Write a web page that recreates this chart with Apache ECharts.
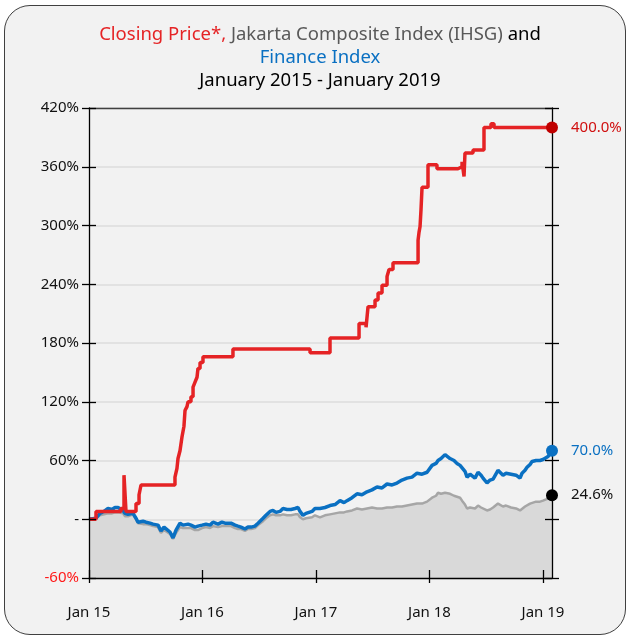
<!DOCTYPE html>
<html>
<head>
<meta charset="utf-8">
<script src="https://cdn.jsdelivr.net/npm/echarts@6.0.0/dist/echarts.min.js"></script>
<style>
  html, body { margin: 0; padding: 0; background: #fff; }
  #frame {
    position: absolute; left: 4px; top: 5px; width: 620px; height: 628px;
    background: #f2f2f2; border: 1.5px solid #404040; border-radius: 26px;
  }
  #chart { position: absolute; left: 0; top: 0; width: 628px; height: 639px; }
</style>
</head>
<body>
<div id="frame"></div>
<div id="chart"></div>
<script>
// months since Jan 2015 for the two index series
var idxMonths = [
  0, 0.74, 1.16, 1.59, 2.01, 2.43, 2.75, 3.07, 3.28, 3.59,
  3.81, 4.12, 4.33, 4.65, 4.97, 5.18, 5.39, 5.71, 6.03, 6.45,
  6.77, 7.30, 7.61, 7.93, 8.14, 8.56, 8.88, 9.20, 9.62, 9.94,
  10.15, 10.47, 10.78, 11.21, 11.52, 11.95, 12.37, 12.79, 13.11, 13.64,
  14.06, 14.38, 15.01, 15.44, 15.75, 16.07, 16.49, 16.81, 17.13, 17.55,
  17.87, 18.40, 18.71, 19.14, 19.45, 19.77, 20.19, 20.51, 20.93, 21.36,
  21.78, 22.10, 22.31, 22.62, 22.94, 23.15, 23.58, 23.89, 24.42, 24.95,
  25.48, 26.01, 26.54, 26.96, 27.28, 27.81, 28.34, 28.86, 29.39, 29.92,
  30.45, 30.98, 31.51, 32.04, 32.56, 33.09, 33.62, 34.15, 34.68, 35.21,
  35.74, 36.27, 36.69, 36.90, 37.22, 37.64, 38.17, 38.59, 38.91, 39.23,
  39.44, 39.75, 39.97, 40.28, 40.49, 40.81, 41.13, 41.45, 41.66, 42.08,
  42.40, 42.72, 42.93, 43.24, 43.45, 43.77, 44.09, 44.30, 44.62, 44.83,
  45.15, 45.36, 45.57, 45.78, 46.10, 46.31, 46.63, 46.84, 47.26, 47.68,
  48.00, 48.21, 48.53, 48.74, 48.95
];
var financeIdx = [
  0, 1, 6, 8, 11, 10, 12, 12, 14, 9,
  6, 5, 4, 6, 1, -3, -4, -2, -3, -4,
  -5, -6, -12, -8, -9, -13, -19, -11, -4, -6,
  -8, -5, -6, -8, -7, -6, -5, -6, -3, -5,
  -3, -4, -4, -6, -7, -8, -10, -8, -8, -7,
  -4, 1, 4, 8, 9, 7, 8, 11, 10, 10,
  11, 12, 8, 4, 6, 7, 8, 11, 11, 12,
  14, 15, 19, 17, 19, 22, 26, 25, 28, 30,
  33, 32, 36, 35, 37, 40, 42, 43, 47, 46,
  48, 55, 57, 60, 62, 66, 62, 60, 57, 55,
  53, 49, 43, 46, 47, 42, 48, 45, 42, 37,
  40, 41, 43, 50, 51, 45, 47, 48, 46, 47,
  45, 43, 42, 47, 50, 53, 56, 59, 60, 60,
  61, 62, 64, 67, 70
];
var ihsg = [
  0, 1, 4, 5, 6, 6, 7, 7, 8, 6,
  3, 3, 2, 5, 0, -4, -6, -5, -5, -6,
  -7, -8, -14, -11, -12, -15, -20, -14, -8, -9,
  -10, -9, -9, -11, -11, -9, -8, -9, -7, -8,
  -7, -7, -7, -9, -10, -10, -12, -10, -10, -9,
  -6, -2, 1, 4, 5, 4, 4, 5, 4, 4,
  5, 5, 2, 0, 1, 1, 2, 4, 2, 4,
  5, 6, 7, 7, 8, 9, 11, 10, 11, 12,
  11, 11, 12, 12, 13, 13, 14, 15, 16, 16,
  18, 22, 24, 27, 26, 27, 26, 24, 23, 22,
  19, 15, 11, 12, 13, 11, 14, 12, 11, 9,
  10, 12, 14, 16, 16, 13, 14, 13, 12, 12,
  11, 10, 9, 11, 13, 15, 16, 17, 18, 18,
  19, 20, 21, 23, 24.6
];
// closing price: value holds from each month until the next change
var priceMonths = [
  0, 0.74, 3.38, 3.70, 3.91, 4.97, 5.29, 5.50, 9.09, 9.30,
  9.41, 9.62, 9.83, 10.04, 10.15, 10.36, 10.47, 10.78, 11.00, 11.21,
  11.42, 11.52, 11.74, 12.05, 15.22, 23.37, 25.48, 28.55, 29.29, 29.50,
  30.24, 30.56, 30.98, 31.51, 31.72, 32.14, 34.79, 34.89, 35.00, 35.10,
  35.21, 35.84, 36.79, 39.01, 39.44, 39.65, 39.75, 40.60, 41.76, 42.50,
  42.82, 48.95
];
var closingPrice = [
  0, 8, 11, 45, 8, 16, 25, 35, 43, 52,
  62, 70, 84, 95, 111, 115, 120, 125, 135, 140,
  145, 154, 160, 166, 174, 170, 185, 200, 196, 217,
  224, 231, 239, 248, 255, 262, 285, 293, 299, 316,
  339, 362, 358, 360, 365, 350, 374, 377, 400, 404,
  400, 400
];
var tickMonths = [0, 12, 24, 36, 48];
var tickLabels = ['Jan 15', 'Jan 16', 'Jan 17', 'Jan 18', 'Jan 19'];

var RED = '#e52325', BLUE = '#0a70c2', GREY = '#a6a6a6';
var FONT = 'Noto Sans';
var TITLE_SIZE = 18.5;

function pairs(xs, ys) {
  return xs.map(function (x, i) { return [x, ys[i]]; });
}
function lastPoint(xs, ys) {
  return [[xs[xs.length - 1], ys[ys.length - 1]]];
}

var chart = echarts.init(document.getElementById('chart'), null, {renderer: 'canvas'});

var tickOpt = function (inside, len) {
  return {show: true, inside: inside, length: len, lineStyle: {color: '#000', width: 1.3}};
};
var noLine = {show: false, onZero: false};

chart.setOption({
  backgroundColor: 'transparent',
  animation: false,
  textStyle: {fontFamily: FONT},
  grid: {left: 89, right: 76, top: 108, bottom: 61, containLabel: false},
  graphic: [
    {type: 'text', x: 320, y: 35, style: {
      text: '{r|Closing Price*,} {g|Jakarta Composite Index (IHSG)} {k|and}',
      align: 'center', verticalAlign: 'middle', fontFamily: FONT, fontSize: TITLE_SIZE,
      rich: {
        r: {fill: RED, fontFamily: FONT, fontSize: TITLE_SIZE},
        g: {fill: '#595959', fontFamily: FONT, fontSize: TITLE_SIZE},
        k: {fill: '#000', fontFamily: FONT, fontSize: TITLE_SIZE}
      }
    }},
    {type: 'text', x: 320, y: 58, style: {
      text: 'Finance Index', fill: BLUE,
      align: 'center', verticalAlign: 'middle', fontFamily: FONT, fontSize: TITLE_SIZE
    }},
    {type: 'text', x: 320, y: 81, style: {
      text: 'January 2015 - January 2019', fill: '#000',
      align: 'center', verticalAlign: 'middle', fontFamily: FONT, fontSize: TITLE_SIZE
    }}
  ],
  xAxis: [
    {
      type: 'value', position: 'bottom', min: 0, max: 48.95, z: 5,
      axisLine: {show: true, onZero: false, lineStyle: {color: '#000', width: 1.3}},
      axisTick: {show: true, inside: false, length: 5, customValues: tickMonths, lineStyle: {color: '#000', width: 1.3}},
      axisLabel: {
        show: true, customValues: tickMonths, margin: 27, fontSize: 15, color: '#111',
        formatter: function (v) { return tickLabels[tickMonths.indexOf(Math.round(v))] || ''; }
      },
      splitLine: {show: false}
    },
    {
      type: 'value', position: 'bottom', min: 0, max: 48.95, z: 5,
      axisLine: noLine,
      axisTick: {show: true, inside: true, length: 8, customValues: tickMonths, lineStyle: {color: '#000', width: 1.3}},
      axisLabel: {show: false}, splitLine: {show: false}
    },
    {
      type: 'value', position: 'top', min: 0, max: 48.95, z: 5,
      axisLine: {show: true, onZero: false, lineStyle: {color: '#404040', width: 1.3}},
      axisTick: {show: false}, axisLabel: {show: false}, splitLine: {show: false}
    }
  ],
  yAxis: [
    {
      type: 'value', position: 'left', min: -60, max: 420, interval: 60, z: 5,
      axisLine: {show: true, onZero: false, lineStyle: {color: '#000', width: 1.3}},
      axisTick: tickOpt(false, 7),
      axisLabel: {
        show: true, margin: 10, fontSize: 15,
        color: function (v) { return Number(v) < 0 ? '#ff1a1a' : '#111'; },
        formatter: function (v) { return v === 0 ? '-' : v + '%'; }
      },
      splitLine: {show: false}
    },
    {
      type: 'value', position: 'left', min: -60, max: 420, interval: 60, z: 5,
      axisLine: noLine, axisTick: tickOpt(true, 7),
      axisLabel: {show: false}, splitLine: {show: false}
    },
    {
      type: 'value', position: 'right', min: -60, max: 420, interval: 60, z: 5,
      axisLine: {show: true, onZero: false, lineStyle: {color: '#000', width: 1.3}},
      axisTick: tickOpt(false, 7), axisLabel: {show: false}, splitLine: {show: false}
    },
    {
      type: 'value', position: 'right', min: -60, max: 420, interval: 60, z: 5,
      axisLine: noLine, axisTick: tickOpt(true, 7),
      axisLabel: {show: false}, splitLine: {show: false}
    },
    {
      type: 'value', position: 'left', min: -60, max: 420, interval: 60, z: 0,
      axisLine: noLine, axisTick: {show: false}, axisLabel: {show: false},
      splitLine: {show: true, lineStyle: {color: '#dcdcdc', width: 1.5}}
    }
  ],
  series: [
    {
      name: 'IHSG', type: 'line', data: pairs(idxMonths, ihsg), z: 2,
      showSymbol: false, lineStyle: {color: GREY, width: 2.5},
      areaStyle: {color: '#d9d9d9', opacity: 1, origin: 'start'}
    },
    {
      name: 'Finance Index', type: 'line', data: pairs(idxMonths, financeIdx), z: 3,
      showSymbol: false, lineStyle: {color: BLUE, width: 3.5}
    },
    {
      name: 'Closing Price', type: 'line', step: 'end', data: pairs(priceMonths, closingPrice), z: 4,
      showSymbol: false, lineStyle: {color: RED, width: 3.5}
    },
    {
      type: 'scatter', data: lastPoint(idxMonths, ihsg), z: 6, symbolSize: 12,
      itemStyle: {color: '#000', opacity: 1},
      label: {show: true, position: 'right', distance: 13, fontSize: 15, color: '#111',
        formatter: function (p) { return p.value[1].toFixed(1) + '%'; }}
    },
    {
      type: 'scatter', data: lastPoint(idxMonths, financeIdx), z: 6, symbolSize: 12,
      itemStyle: {color: BLUE, opacity: 1},
      label: {show: true, position: 'right', distance: 13, fontSize: 15, color: BLUE,
        formatter: function (p) { return p.value[1].toFixed(1) + '%'; }}
    },
    {
      type: 'scatter', data: lastPoint(priceMonths, closingPrice), z: 6, symbolSize: 12,
      itemStyle: {color: '#c00000', opacity: 1},
      label: {show: true, position: 'right', distance: 13, fontSize: 15, color: '#d01010',
        formatter: function (p) { return p.value[1].toFixed(1) + '%'; }}
    }
  ]
});
</script>
</body>
</html>
